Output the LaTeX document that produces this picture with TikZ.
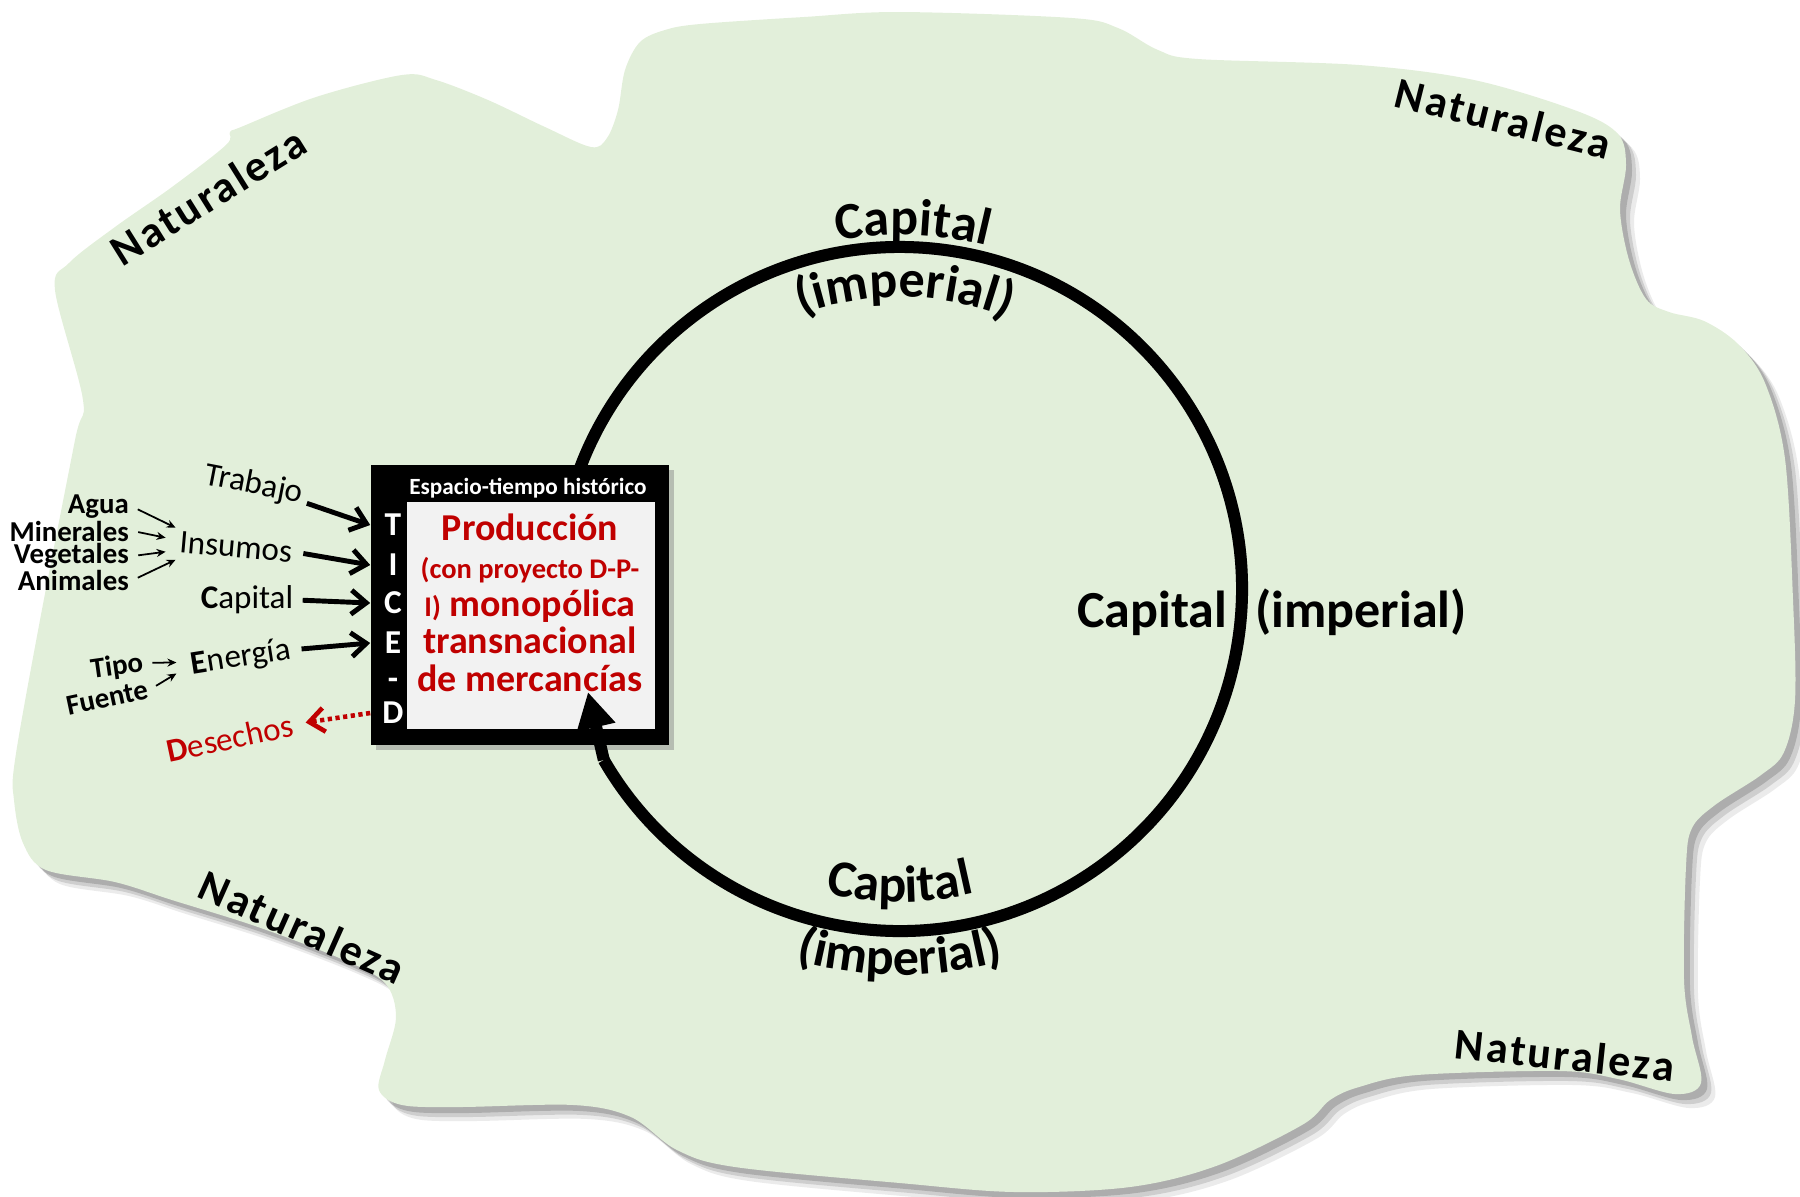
\documentclass[tikz,border=0pt]{standalone}
\usepackage{fontspec}
\setmainfont{Carlito}
\usepackage{tikz}
\usetikzlibrary{arrows.meta,decorations.text}

\definecolor{nature}{HTML}{E2EFDA}
\definecolor{prodred}{HTML}{C00000}
\definecolor{paper}{HTML}{F2F2F2}

\newcommand{\fsz}[1]{\fontsize{#1}{#1}\selectfont}
\newcommand{\naturaleza}{plot[smooth cycle,tension=0.55] coordinates {
    (55,290) (69,263) (115,227) (172,187) (226,145) (230,132) (241,127)
    (316,97) (402,75) (436,80) (488,100) (545,127) (591,147) (607,138)
    (618,110) (625,70) (640,42) (665,30) (700,24) (804,17) (900,12)
    (1072,18) (1118,28) (1158,50) (1198,59) (1359,65) (1474,80)
    (1577,111) (1618,134) (1626,165) (1620,210) (1629,260) (1646,299)
    (1669,312) (1704,321) (1738,344) (1765,383) (1785,459) (1793,600)
    (1795,700) (1784,752) (1761,775) (1715,805) (1692,828) (1686,866)
    (1684,980) (1692,1037) (1701,1083) (1675,1094) (1618,1079)
    (1560,1071) (1417,1075) (1359,1087) (1330,1100) (1302,1125)
    (1216,1166) (1130,1187) (1015,1192) (900,1183) (735,1167) (677,1150)
    (631,1117) (574,1105) (459,1107) (402,1105) (379,1090) (385,1060)
    (396,1017) (385,983) (344,960) (258,927) (172,900) (115,882)
    (46,870) (23,843) (14,800) (15,760) (40,620) (75,440) (83,400)}}

\tikzset{
  input/.style={font=\fsz{9.4}, inner sep=1pt},
  source/.style={font=\bfseries\fsz{8.2}, inner sep=1pt},
  feed/.style={-{Straight Barb[length=0.15cm,width=0.24cm]}, line width=1.4pt},
  small feed/.style={-{Stealth[length=0.09cm,width=0.08cm]}, line width=0.5pt, shorten <=1.5pt},
  waste/.style={draw=prodred, -{Straight Barb[length=0.15cm,width=0.24cm]}, line width=1.3pt,
    dash pattern=on 1.2pt off 1pt},
  ticed/.style={text=white, font=\bfseries\fsz{9.5}, inner sep=0pt},
  nat/.style={font=\bfseries\fsz{12.5}\addfontfeatures{LetterSpace=6}},
  ring/.style={line width=0.12cm},
  ringtext/.style={decorate, decoration={text along path, text align=center, text={#1}}},
}

\begin{document}
\begin{tikzpicture}[x=0.01cm, y=-0.01cm]
  \useasboundingbox (0,0) rectangle (1800,1196);
  % nature and its shadow
  \fill[black, opacity=0.08, shift={(14,14)}] \naturaleza;
  \fill[black, opacity=0.12, shift={(10,10)}] \naturaleza;
  \fill[black, opacity=0.16, shift={(6,6)}] \naturaleza;
  \fill[nature] \naturaleza;
  \node[nat, rotate=32]  (nat1) at (208,196)   {Naturaleza};
  \node[nat, rotate=-14] (nat2) at (1503,118)  {Naturaleza};
  \node[nat, rotate=-24] (nat3) at (302,927)   {Naturaleza};
  \node[nat, rotate=-6]  (nat4) at (1565,1055) {Naturaleza};

  % circuit of capital
  \coordinate (c0) at (900,589);
  \draw[ring, black!40, opacity=0.5, shift={(5,6)}] (c0) ++(-170:342) arc[start angle=-170, end angle=150, radius=342];
  \draw[ring] (c0) ++(-170:342) arc[start angle=-170, end angle=150, radius=342] coordinate (ringend);
  \path[ringtext={|\bfseries\fsz{14.8}|Capital}] (c0) ++(-118:354) arc[start angle=-118, end angle=-58, radius=354];
  \path[ringtext={|\bfseries\fsz{14.8}|(imperial)}] (c0) ++(-119:292) arc[start angle=-119, end angle=-59, radius=292];
  \path[ringtext={|\bfseries\fsz{14.8}|Capital}] (c0) ++(120:313) arc[start angle=120, end angle=60, radius=313];
  \path[ringtext={|\bfseries\fsz{14.8}|(imperial)}] (c0) ++(115:386) arc[start angle=115, end angle=65, radius=386];
  \node[font=\bfseries\fsz{14.8}] (capright) at (1272,612) {Capital\hspace{0.28cm}(imperial)};

  % production box
  \fill[black!45, opacity=0.5, shift={(5,5)}] (371,465) rectangle (669,745);
  \node[fill=black, minimum width=2.98cm, minimum height=2.80cm, inner sep=0] (box) at (520,605) {};
  \node[fill=paper, minimum width=2.48cm, minimum height=2.27cm, inner sep=0] (prod) at (531,615.5) {};
  \node[text=white, font=\bfseries\fsz{6.6}] (era) at (528,488) {Espacio-tiempo histórico};
  \node[text=prodred, align=center, font=\bfseries\fontsize{10.8}{10.7}\selectfont] (prodtext) at (530,603)
    {Producción\\{\fsz{8.1}(con proyecto D-P-}\\{\fsz{8.1}I)} monopólica\\transnacional\\de mercancías};
  \node[ticed] (lT) at (393,525) {T};
  \node[ticed] (lI) at (393,565) {I};
  \node[ticed] (lC) at (393,603) {C};
  \node[ticed] (lE) at (393,643) {E};
  \node[ticed] (lH) at (393,684) {-};
  \node[ticed] (lD) at (393,713) {D};
  \coordinate (tip) at (588,692);
  \draw[ring, -{Triangle[length=0.36cm,width=0.37cm]}] (ringend) -- (tip);

  % inputs
  \node[input, rotate=-11] (trabajo) at (254,485) {Trabajo};
  \node[input, rotate=-5] (insumos) at (236,547) {Insumos};
  \node[input] (capin) at (247,600) {\textbf{C}apital};
  \node[input, rotate=9] (energia) at (241,658) {\textbf{E}nergía};
  \node[input, rotate=12, text=prodred] (desechos) at (230,738) {\textbf{D}esechos};
  \node[source, anchor=east] (agua) at (133,507) {Agua};
  \node[source, anchor=east] (minerales) at (133,531) {Minerales};
  \node[source, anchor=east] (vegetales) at (133,556) {Vegetales};
  \node[source, anchor=east] (animales) at (133,580) {Animales};
  \node[source, rotate=8] (tipo) at (117,667) {Tipo};
  \node[source, rotate=12] (fuente) at (107,698) {Fuente};

  \draw[feed] ([yshift=-0.08cm]trabajo.east) -- (lT -| box.west);
  \draw[feed, shorten <=2pt] (insumos.east) -- (lI -| box.west);
  \draw[feed, shorten <=1.5pt] (capin.east) -- (lC -| box.west);
  \draw[feed, shorten <=2pt] (energia.east) -- (lE -| box.west);
  \draw[waste, shorten >=2.5pt] (lD -| box.west) -- (desechos.east);
  % sources of inputs
  \draw[small feed] (agua.east) -- ([yshift=0.14cm]insumos.west);
  \draw[small feed] (minerales.east) -- ([xshift=-0.1cm,yshift=0.04cm]insumos.west);
  \draw[small feed] (vegetales.east) -- ([xshift=-0.1cm,yshift=-0.1cm]insumos.west);
  \draw[small feed] (animales.east) -- ([yshift=-0.18cm]insumos.west);
  \draw[small feed] (tipo.east) -- ([xshift=-0.11cm,yshift=0.04cm]energia.west);
  \draw[small feed] (fuente.east) -- ([xshift=-0.11cm,yshift=-0.07cm]energia.west);
\end{tikzpicture}
\end{document}
